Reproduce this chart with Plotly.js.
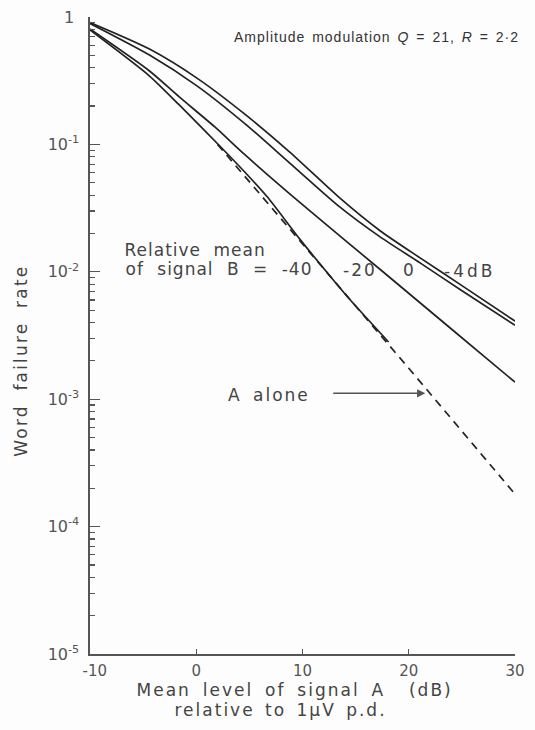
<!DOCTYPE html>
<html>
<head>
<meta charset="utf-8">
<script src="https://cdn.plot.ly/plotly-3.0.1.min.js"></script>
<style>
  html, body { margin: 0; padding: 0; background: #fdfdfd; }
  #chart { width: 535px; height: 730px; }
</style>
</head>
<body>
<div id="chart"></div>
<script>
// ---- Data ----
// Signal B relative mean = 0 dB (upper curve of top pair)
const b0_x = [-10, -4.4, 0.1, 4.6, 8.8, 13.5, 17.3, 21.1, 24.9, 30];
const b0_y = [0.905, 0.56, 0.33, 0.172, 0.087, 0.038, 0.021, 0.0128, 0.0079, 0.0041];
// Signal B relative mean = -4 dB (lower curve of top pair)
const bm4_x = [-10, -4.4, 0.1, 4.6, 8.8, 13.5, 17.3, 21.1, 24.9, 30];
const bm4_y = [0.89, 0.503, 0.287, 0.145, 0.0714, 0.0323, 0.0188, 0.0117, 0.0072, 0.0038];
// Signal B relative mean = -20 dB
const bm20_x = [-10, -4.4, -1.6, 1.75, 4.6, 9.8, 17.6, 23.9, 30];
const bm20_y = [0.805, 0.377, 0.236, 0.137, 0.0826, 0.0347, 0.00996, 0.00362, 0.00136];
// Signal B relative mean = -40 dB
const bm40_x = [-10, -4.4, -1.6, 2.4, 5.0, 6.7, 9.8, 12.9, 14.5, 18.1];
const bm40_y = [0.79, 0.344, 0.204, 0.0937, 0.0555, 0.0386, 0.0178, 0.00863, 0.0060, 0.00281];
// A alone (dashed)
const aAlone_x = [2, 10, 20, 30];
const aAlone_y = [0.10, 0.0167, 0.00175, 0.00018];

// Tick labels
const xTickVals = [-10, 0, 10, 20, 30];
const xTickText = ['\u00a0\u00a0-10', '0', '10', '20', '30'];
const yTickVals = [1e-5, 1e-4, 1e-3, 1e-2, 1e-1, 1];
const yTickText = ['10<sup>-5</sup>', '10<sup>-4</sup>', '10<sup>-3</sup>', '10<sup>-2</sup>', '10<sup>-1</sup>', '1\u00a0'];

// minor tick positions (2..9 in each decade)
const yMinor = [];
for (let e = -5; e < 0; e++) {
  for (let m = 2; m <= 9; m++) yMinor.push(m * Math.pow(10, e));
}

const lineColor = '#222';
const axisColor = '#555';
const textColor = '#444';
const FONT = 'DejaVu Sans, sans-serif';

function solid(x, y) {
  return { x: x, y: y, type: 'scatter', mode: 'lines',
    line: { color: lineColor, width: 1.7, shape: 'spline', smoothing: 0.7 },
    hoverinfo: 'skip', showlegend: false };
}

const traces = [
  solid(b0_x, b0_y),
  solid(bm4_x, bm4_y),
  solid(bm20_x, bm20_y),
  solid(bm40_x, bm40_y),
  { x: aAlone_x, y: aAlone_y, type: 'scatter', mode: 'lines',
    line: { color: lineColor, width: 1.7, dash: '8px,6px' },
    hoverinfo: 'skip', showlegend: false }
];

// helpers: pixel -> paper
const L = 90, R = 515, T = 17, B = 654;
const px = v => (v - L) / (R - L);
const py = v => (B - v) / (B - T);

const annFont = { family: FONT, size: 17, color: textColor };

// [letter-spacing, word-spacing] in px for each annotation (style only)
const spacing = [];
function ann(o, ls, ws) { spacing.push([ls, ws]); return o; }

const annotations = [
  ann({ xref: 'paper', yref: 'paper', x: px(376.5), y: py(37), xanchor: 'center', yanchor: 'middle',
    text: 'Amplitude modulation <i>Q</i> = 21, <i>R</i> = 2·2', showarrow: false,
    font: { family: 'Liberation Sans, Arial, sans-serif', size: 14, color: '#333' } }, 1, 2),
  ann({ xref: 'paper', yref: 'paper', x: px(195), y: py(250), xanchor: 'center', yanchor: 'middle',
    text: 'Relative mean', showarrow: false, font: annFont }, 1, 6),
  ann({ xref: 'paper', yref: 'paper', x: px(219), y: py(269), xanchor: 'center', yanchor: 'middle',
    text: 'of signal B = -40', showarrow: false, font: annFont }, 1, 7),
  ann({ xref: 'paper', yref: 'paper', x: px(359.5), y: py(270), xanchor: 'center', yanchor: 'middle',
    text: '-20', showarrow: false, font: annFont }, 2, 0),
  ann({ xref: 'paper', yref: 'paper', x: px(408.5), y: py(270), xanchor: 'center', yanchor: 'middle',
    text: '0', showarrow: false, font: annFont }, 0, 0),
  ann({ xref: 'paper', yref: 'paper', x: px(469), y: py(271), xanchor: 'center', yanchor: 'middle',
    text: '-4dB', showarrow: false, font: annFont }, 3, 0),
  ann({ xref: 'paper', yref: 'paper', x: px(269), y: py(395), xanchor: 'center', yanchor: 'middle',
    text: 'A alone', showarrow: false, font: annFont }, 2, 4),
  ann({ xref: 'x', yref: 'y', x: 21.56, y: -2.954, axref: 'x', ayref: 'y', ax: 12.75, ay: -2.954,
    text: '', showarrow: true, arrowhead: 2, arrowsize: 1.1, arrowwidth: 1.5, arrowcolor: '#555' }, 0, 0),
  ann({ xref: 'paper', yref: 'paper', x: px(294), y: py(690), xanchor: 'center', yanchor: 'middle',
    text: 'Mean level of signal A\u00a0\u00a0(dB)', showarrow: false, font: annFont }, 2, 4.5),
  ann({ xref: 'paper', yref: 'paper', x: px(280), y: py(710), xanchor: 'center', yanchor: 'middle',
    text: 'relative to 1µV p.d.', showarrow: false, font: annFont }, 2, 3),
  ann({ xref: 'paper', yref: 'paper', x: px(21), y: py(361), xanchor: 'center', yanchor: 'middle',
    text: 'Word failure rate', textangle: -90, showarrow: false, font: annFont }, 2.2, 6)
];

const layout = {
  width: 535, height: 730,
  margin: { l: L, r: 535 - R, t: T, b: 730 - B, pad: 0 },
  paper_bgcolor: '#fdfdfd',
  plot_bgcolor: '#fdfdfd',
  font: { family: FONT, color: textColor },
  xaxis: {
    range: [-10, 30], showgrid: false, zeroline: false,
    showline: true, linecolor: axisColor, linewidth: 1.6,
    ticks: 'inside', ticklen: 5, tickwidth: 1.4, tickcolor: axisColor,
    tickvals: xTickVals, ticktext: xTickText,
    tickfont: { family: FONT, size: 15, color: '#555' },
    ticklabelstandoff: 2
  },
  yaxis: {
    type: 'log', range: [-5, 0], showgrid: false, zeroline: false,
    showline: true, linecolor: axisColor, linewidth: 1.6,
    ticks: 'inside', ticklen: 10, tickwidth: 1.4, tickcolor: axisColor,
    tickvals: yTickVals, ticktext: yTickText,
    tickfont: { family: FONT, size: 16, color: '#555' },
    ticklabelstandoff: 6,
    minor: { tickvals: yMinor, ticks: 'inside', ticklen: 5, tickwidth: 1.2, tickcolor: axisColor, showgrid: false }
  },
  annotations: annotations
};

Plotly.newPlot('chart', traces, layout, { staticPlot: true, displayModeBar: false }).then(function (gd) {
  spacing.forEach(function (s, i) {
    const t = gd.querySelector('g.annotation[data-index="' + i + '"] text.annotation-text');
    if (t) {
      t.style.letterSpacing = s[0] + 'px';
      t.style.wordSpacing = s[1] + 'px';
    }
  });
});
</script>
</body>
</html>
